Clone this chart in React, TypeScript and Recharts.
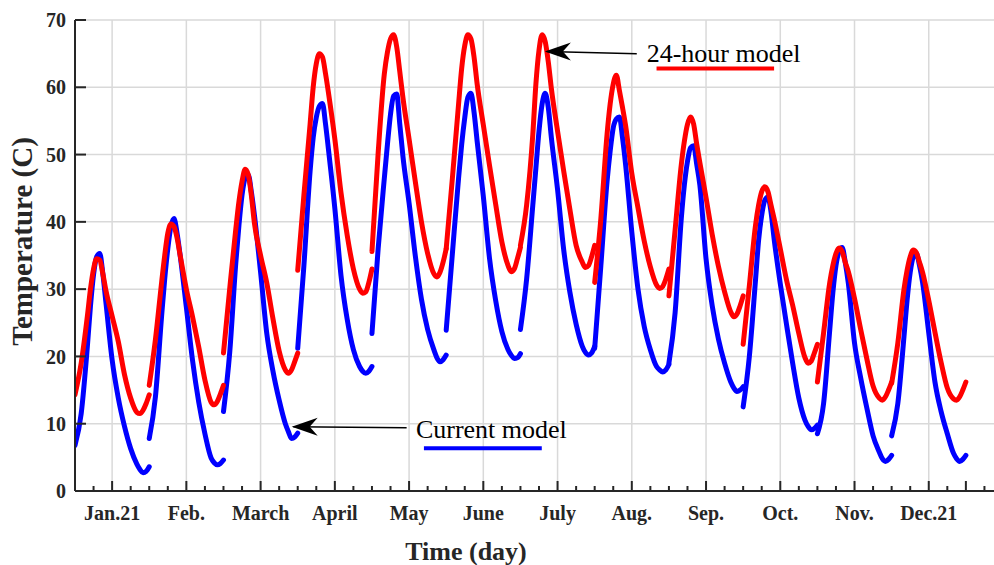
import React from 'react';
import {
  LineChart, Line, XAxis, YAxis, CartesianGrid, ReferenceLine, ReferenceDot,
} from 'recharts';

// local hour inside each month's representative day
const hours = [0, 2, 4, 5, 6, 7, 8, 9, 10, 12, 14, 16, 18, 20, 21, 22, 23, 24];
const monthLabels = ['Jan.21', 'Feb.', 'March', 'April', 'May', 'June', 'July', 'Aug.', 'Sep.', 'Oct.', 'Nov.', 'Dec.21'];
const yTicks = [0, 10, 20, 30, 40, 50, 60, 70];
const xTicks = Array.from({ length: 50 }, (_, i) => i * 6); // every 6 h
const majorTicks = monthLabels.map((_, i) => 12 + 24 * i);

// 24-hour model (red)
const model24h = [
  [14.3, 19.0, 26.0, 30.0, 33.0, 34.5, 34.3, 32.3, 29.8, 26.0, 22.2, 17.3, 13.8, 11.7, 11.5, 12.0, 13.0, 14.3],
  [15.7, 22.5, 31.0, 35.0, 38.3, 39.7, 39.3, 37.6, 35.0, 30.0, 25.9, 21.4, 16.5, 13.2, 12.8, 13.3, 14.4, 15.7],
  [20.5, 30.0, 39.0, 43.0, 46.0, 47.8, 47.0, 44.0, 39.8, 35.0, 30.9, 25.6, 20.8, 18.0, 17.5, 18.0, 19.2, 20.5],
  [32.8, 44.0, 54.5, 60.0, 63.5, 65.0, 64.5, 62.0, 59.0, 52.3, 44.3, 38.0, 33.0, 30.0, 29.4, 29.6, 31.0, 33.0],
  [35.6, 50.2, 62.0, 65.2, 67.2, 67.8, 66.0, 62.3, 58.5, 52.3, 46.0, 40.0, 35.3, 32.3, 31.8, 32.5, 34.0, 36.0],
  [36.0, 46.5, 57.5, 62.8, 66.2, 67.8, 67.2, 64.5, 60.5, 54.4, 48.4, 42.6, 37.0, 33.5, 32.6, 33.0, 34.5, 36.2],
  [36.5, 42.5, 53.0, 60.5, 65.5, 67.8, 66.8, 63.8, 59.8, 53.5, 47.5, 41.8, 36.5, 34.0, 33.2, 33.5, 34.8, 36.5],
  [31.0, 40.5, 53.0, 57.5, 60.5, 61.8, 59.5, 57.0, 54.3, 47.2, 42.1, 37.2, 33.3, 30.6, 30.1, 30.4, 31.5, 33.0],
  [29.0, 38.8, 48.5, 52.0, 54.5, 55.6, 54.5, 51.5, 48.8, 43.6, 38.1, 33.4, 29.6, 26.6, 25.9, 26.3, 27.5, 29.0],
  [21.8, 30.5, 39.5, 42.5, 44.5, 45.2, 44.5, 42.5, 40.5, 36.0, 31.4, 27.6, 23.4, 19.8, 19.0, 19.3, 20.5, 21.8],
  [16.2, 23.5, 31.0, 33.5, 35.3, 36.1, 35.6, 34.0, 32.6, 28.6, 24.0, 19.6, 15.6, 13.8, 13.5, 14.0, 15.0, 16.2],
  [16.0, 22.0, 30.0, 32.8, 34.8, 35.8, 35.4, 34.0, 32.5, 28.3, 23.6, 19.1, 15.3, 13.7, 13.5, 14.0, 15.0, 16.2],
];

// Current model (blue)
const currentModel = [
  [6.8, 11.5, 21.5, 27.5, 32.2, 34.8, 35.3, 32.3, 28.0, 19.5, 13.8, 9.6, 6.3, 4.0, 3.2, 2.7, 2.9, 3.6],
  [7.8, 14.0, 26.0, 31.5, 36.0, 39.3, 40.5, 38.3, 35.0, 27.3, 19.4, 13.2, 8.5, 4.9, 4.2, 3.9, 4.1, 4.6],
  [11.8, 20.5, 34.0, 39.5, 44.0, 46.5, 47.0, 44.5, 41.0, 32.5, 23.4, 17.8, 13.5, 10.0, 8.8, 7.8, 8.0, 8.6],
  [21.2, 33.5, 47.5, 52.5, 55.5, 57.2, 57.6, 54.5, 50.5, 42.0, 32.0, 25.5, 21.0, 18.5, 17.8, 17.5, 17.8, 18.5],
  [23.4, 36.0, 46.5, 51.5, 56.0, 58.7, 59.0, 54.5, 49.8, 42.8, 35.0, 28.5, 24.0, 21.0, 19.8, 19.2, 19.5, 20.2],
  [23.9, 35.3, 46.5, 51.5, 55.5, 58.5, 59.1, 56.3, 52.0, 43.8, 34.6, 28.3, 23.7, 21.0, 20.2, 19.7, 19.8, 20.4],
  [24.0, 31.5, 42.5, 48.0, 53.5, 57.5, 59.1, 57.0, 52.5, 44.8, 35.8, 29.5, 24.8, 21.5, 20.6, 20.2, 20.5, 21.5],
  [21.2, 33.5, 46.0, 50.5, 54.0, 55.3, 55.6, 52.5, 48.5, 38.5, 30.0, 24.5, 21.0, 18.5, 18.0, 17.7, 18.0, 18.8],
  [19.0, 26.5, 40.5, 45.5, 49.0, 51.0, 51.3, 48.5, 45.5, 34.5, 27.5, 22.6, 19.0, 16.2, 15.3, 14.8, 15.0, 15.5],
  [12.5, 20.0, 31.4, 37.3, 41.0, 43.2, 43.7, 41.5, 37.5, 30.8, 24.8, 19.0, 13.8, 10.5, 9.6, 9.1, 9.3, 9.8],
  [8.5, 13.0, 24.0, 29.5, 33.5, 35.6, 36.2, 34.0, 30.9, 22.0, 16.8, 12.3, 8.2, 5.8, 4.8, 4.4, 4.7, 5.3],
  [8.2, 13.0, 23.0, 28.4, 32.5, 34.8, 35.3, 33.5, 31.0, 23.5, 16.2, 11.8, 8.5, 5.6, 4.8, 4.4, 4.7, 5.3],
];

const AXIS = '#262626';
const GRID = '#d9d9d9';
const FONT = "'Liberation Serif', 'Times New Roman', serif";

const monthSeries = (values: number[][]) =>
  values.map((row, m) => row.map((v, i) => ({ x: 24 * m + hours[i], y: v })));

const redSeries = monthSeries(model24h);
const blueSeries = monthSeries(currentModel);

const isMajor = (v: number) => (v >= 12 && (v - 12) % 24 === 0) || v === 288;
const labelFor = (v: number) => {
  const idx = (v - 12) / 24;
  return Number.isInteger(idx) && idx >= 0 && idx < monthLabels.length ? monthLabels[idx] : '';
};

const BottomTick = (props: any) => {
  const { x, y, payload } = props;
  const v = payload.value;
  const len = isMajor(v) ? 10 : 5;
  const label = labelFor(v);
  return (
    <g>
      <line x1={x} x2={x} y1={y} y2={y - len} stroke={AXIS} strokeWidth={2} />
      {label && (
        <text x={x} y={y + 29} textAnchor="middle" fontFamily={FONT} fontWeight="bold" fontSize={20} fill={AXIS}>
          {label}
        </text>
      )}
    </g>
  );
};

const TopTick = (props: any) => {
  const { x, y, payload } = props;
  const len = isMajor(payload.value) ? 10 : 5;
  return <line x1={x} x2={x} y1={y} y2={y + len} stroke={AXIS} strokeWidth={2} />;
};

const LeftTick = (props: any) => {
  const { x, y, payload } = props;
  return (
    <g>
      <line x1={x} x2={x + 11} y1={y} y2={y} stroke={AXIS} strokeWidth={2} />
      <text x={x - 9} y={y} dy="0.36em" textAnchor="end" fontFamily={FONT} fontWeight="bold" fontSize={20} fill={AXIS}>
        {payload.value}
      </text>
    </g>
  );
};

const RightTick = (props: any) => {
  const { x, y } = props;
  return <line x1={x} x2={x - 11} y1={y} y2={y} stroke={AXIS} strokeWidth={2} />;
};

const Arrowhead = (props: any) => {
  const { cx, cy } = props;
  return (
    <path
      d={`M${cx},${cy} L${cx + 26},${cy - 9} L${cx + 18},${cy} L${cx + 26},${cy + 9} Z`}
      fill="#000"
    />
  );
};

const makeText = (text: string) => (props: any) => (
  <text x={props.cx} y={props.cy} fontFamily={FONT} fontSize={26} fill="#000">
    {text}
  </text>
);

export default function App() {
  return (
    <div style={{ position: 'absolute', left: 0, top: 0, width: 994, height: 565, overflow: 'hidden', background: '#fff' }}>
      <LineChart width={1004} height={565} margin={{ top: 20, right: 1, bottom: 0, left: 0 }}>
        <CartesianGrid stroke={GRID} strokeWidth={1.5} verticalValues={majorTicks} horizontalValues={yTicks} />
        <XAxis
          xAxisId={0}
          dataKey="x"
          type="number"
          domain={[0, 300]}
          allowDataOverflow
          ticks={xTicks}
          interval={0}
          height={74}
          tickSize={0}
          tickMargin={0}
          tickLine={false}
          tick={<BottomTick />}
          axisLine={{ stroke: AXIS, strokeWidth: 2 }}
          label={{
            content: (p: any) => (
              <text
                x={p.viewBox.x + 391}
                y={p.viewBox.y + 69}
                textAnchor="middle"
                fontFamily={FONT}
                fontWeight="bold"
                fontSize={26}
                fill={AXIS}
              >
                Time (day)
              </text>
            ),
          }}
        />
        <XAxis
          xAxisId="top"
          orientation="top"
          dataKey="x"
          type="number"
          domain={[0, 300]}
          allowDataOverflow
          ticks={xTicks}
          interval={0}
          height={0}
          tickSize={0}
          tickMargin={0}
          tickLine={false}
          tick={<TopTick />}
          axisLine={{ stroke: AXIS, strokeWidth: 2 }}
        />
        <YAxis
          yAxisId={0}
          type="number"
          domain={[0, 70]}
          ticks={yTicks}
          interval={0}
          width={75}
          tickSize={0}
          tickMargin={0}
          tickLine={false}
          tick={<LeftTick />}
          axisLine={{ stroke: AXIS, strokeWidth: 2 }}
          label={{
            content: (p: any) => (
              <text
                x={22}
                y={p.viewBox.y + p.viewBox.height / 2 - 14}
                transform={`rotate(-90, 22, ${p.viewBox.y + p.viewBox.height / 2 - 14})`}
                textAnchor="middle"
                dominantBaseline="central"
                fontFamily={FONT}
                fontWeight="bold"
                fontSize={29}
                fill={AXIS}
              >
                Temperature (C)
              </text>
            ),
          }}
        />
        <YAxis
          yAxisId="right"
          orientation="right"
          type="number"
          domain={[0, 70]}
          ticks={yTicks}
          interval={0}
          width={0}
          tickSize={0}
          tickMargin={0}
          tickLine={false}
          tick={<RightTick />}
          axisLine={{ stroke: AXIS, strokeWidth: 2 }}
        />

        {blueSeries.map((data, m) => (
          <Line
            key={`b${m}`}
            data={data}
            dataKey="y"
            type="monotone"
            stroke="#0000ff"
            strokeWidth={5}
            strokeLinecap="round"
            strokeLinejoin="round"
            dot={false}
            activeDot={false}
            isAnimationActive={false}
          />
        ))}
        {redSeries.map((data, m) => (
          <Line
            key={`r${m}`}
            data={data}
            dataKey="y"
            type="monotone"
            stroke="#ff0000"
            strokeWidth={5}
            strokeLinecap="round"
            strokeLinejoin="round"
            dot={false}
            activeDot={false}
            isAnimationActive={false}
          />
        ))}

        {/* 24-hour model annotation */}
        <ReferenceLine segment={[{ x: 152.5, y: 65.3 }, { x: 181.6, y: 65.0 }]} stroke="#000" strokeWidth={1.5} ifOverflow="visible" />
        <ReferenceDot x={151.9} y={65.3} r={0} shape={<Arrowhead />} ifOverflow="visible" />
        <ReferenceDot x={184.8} y={63.75} r={0} shape={makeText('24-hour model')} ifOverflow="visible" />
        <ReferenceLine segment={[{ x: 188.0, y: 62.8 }, { x: 226.0, y: 62.8 }]} stroke="#ff0000" strokeWidth={4} ifOverflow="visible" />

        {/* Current model annotation */}
        <ReferenceLine segment={[{ x: 70.6, y: 9.55 }, { x: 107.2, y: 9.4 }]} stroke="#000" strokeWidth={1.5} ifOverflow="visible" />
        <ReferenceDot x={70.05} y={9.55} r={0} shape={<Arrowhead />} ifOverflow="visible" />
        <ReferenceDot x={110.2} y={7.88} r={0} shape={makeText('Current model')} ifOverflow="visible" />
        <ReferenceLine segment={[{ x: 112.8, y: 6.35 }, { x: 150.9, y: 6.35 }]} stroke="#0000ff" strokeWidth={4} ifOverflow="visible" />
      </LineChart>
    </div>
  );
}
